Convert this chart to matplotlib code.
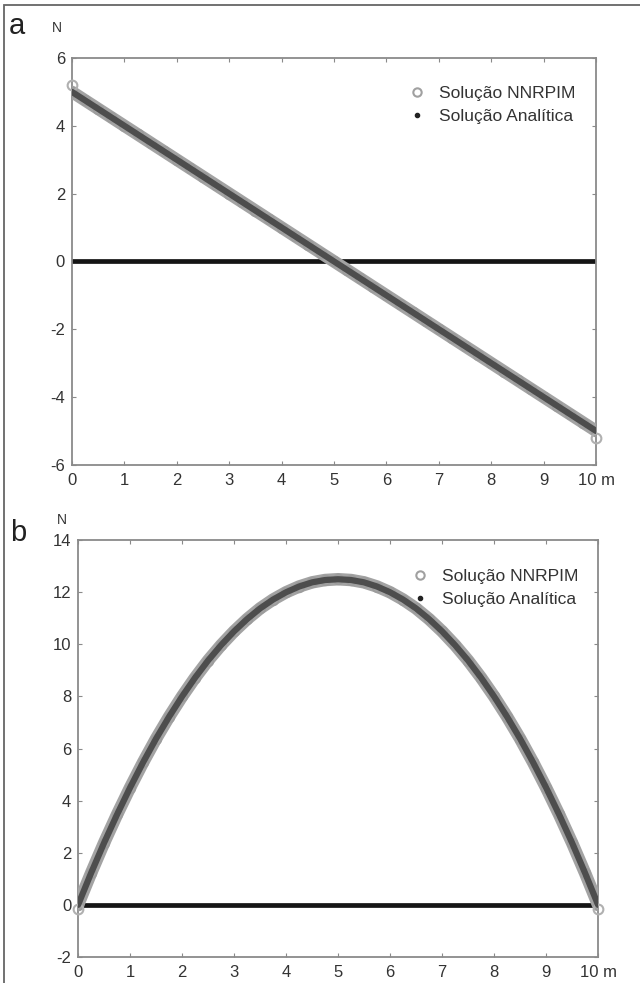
import matplotlib.pyplot as plt
from matplotlib.lines import Line2D
from matplotlib.patches import Rectangle

plt.rcParams['font.family'] = ['Liberation Sans', 'DejaVu Sans']
plt.rcParams['axes.unicode_minus'] = False

# posicoes dos nos (m)
x = [0.0, 0.25, 0.5, 0.75, 1.0, 1.25, 1.5, 1.75, 2.0, 2.25, 2.5, 2.75, 3.0, 3.25,
     3.5, 3.75, 4.0, 4.25, 4.5, 4.75, 5.0, 5.25, 5.5, 5.75, 6.0, 6.25, 6.5, 6.75,
     7.0, 7.25, 7.5, 7.75, 8.0, 8.25, 8.5, 8.75, 9.0, 9.25, 9.5, 9.75, 10.0]

# a) esforco transverso (N)
V_nnrpim = [5.0, 4.75, 4.5, 4.25, 4.0, 3.75, 3.5, 3.25, 3.0, 2.75, 2.5, 2.25, 2.0, 1.75,
            1.5, 1.25, 1.0, 0.75, 0.5, 0.25, 0.0, -0.25, -0.5, -0.75, -1.0, -1.25, -1.5,
            -1.75, -2.0, -2.25, -2.5, -2.75, -3.0, -3.25, -3.5, -3.75, -4.0, -4.25, -4.5,
            -4.75, -5.0]
V_anal = [5.0, 4.75, 4.5, 4.25, 4.0, 3.75, 3.5, 3.25, 3.0, 2.75, 2.5, 2.25, 2.0, 1.75,
          1.5, 1.25, 1.0, 0.75, 0.5, 0.25, 0.0, -0.25, -0.5, -0.75, -1.0, -1.25, -1.5,
          -1.75, -2.0, -2.25, -2.5, -2.75, -3.0, -3.25, -3.5, -3.75, -4.0, -4.25, -4.5,
          -4.75, -5.0]
# nos de extremidade NNRPIM (ligeiro desvio)
V_ends_x = [0.0, 10.0]
V_ends_y = [5.2, -5.2]

# b) momento fletor (N)
M_nnrpim = [0.0, 1.22, 2.38, 3.47, 4.5, 5.47, 6.38, 7.22, 8.0, 8.72, 9.38, 9.97, 10.5,
            10.97, 11.38, 11.72, 12.0, 12.22, 12.38, 12.47, 12.5, 12.47, 12.38, 12.22,
            12.0, 11.72, 11.38, 10.97, 10.5, 9.97, 9.38, 8.72, 8.0, 7.22, 6.38, 5.47,
            4.5, 3.47, 2.38, 1.22, 0.0]
M_anal = [0.0, 1.22, 2.38, 3.47, 4.5, 5.47, 6.38, 7.22, 8.0, 8.72, 9.38, 9.97, 10.5,
          10.97, 11.38, 11.72, 12.0, 12.22, 12.38, 12.47, 12.5, 12.47, 12.38, 12.22,
          12.0, 11.72, 11.38, 10.97, 10.5, 9.97, 9.38, 8.72, 8.0, 7.22, 6.38, 5.47,
          4.5, 3.47, 2.38, 1.22, 0.0]
M_ends_x = [0.0, 10.0]
M_ends_y = [-0.15, -0.15]

zero_x = [0.0, 10.0]
zero_y = [0.0, 0.0]

xticks = [0, 1, 2, 3, 4, 5, 6, 7, 8, 9, 10]
xlabels = ['0', '1', '2', '3', '4', '5', '6', '7', '8', '9', '10 m']
yticks_a = [-6, -4, -2, 0, 2, 4, 6]
yticks_b = [-2, 0, 2, 4, 6, 8, 10, 12, 14]

fig = plt.figure(figsize=(6.4, 9.83), dpi=100)
fig.patches.append(Rectangle((3.5 / 640, -0.1), 1.2, 1 - 5 / 983 + 0.1, transform=fig.transFigure,
                             fill=False, edgecolor='#666666', linewidth=1.3))

ax_a = fig.add_axes([0.1125, 0.527, 0.819, 0.414])
ax_b = fig.add_axes([0.122, 0.0265, 0.8125, 0.424])

gray = '#8a8a8a'
panels = [(ax_a, V_nnrpim, V_anal, V_ends_x, V_ends_y, yticks_a, (0.641, 0.932)),
          (ax_b, M_nnrpim, M_anal, M_ends_x, M_ends_y, yticks_b, (0.641, 0.93))]
for ax, yn, ya, ex, ey, yt, leg_pos in panels:
    ax.plot(zero_x, zero_y, color='#151515', linewidth=3.4, zorder=2)
    ax.plot(x, yn, color='#a3a3a3', linewidth=9, solid_capstyle='round', zorder=3)
    ax.plot(x, yn, linestyle='none', marker='o', markersize=7, markerfacecolor='none',
            markeredgecolor='#9c9c9c', markeredgewidth=1.2, zorder=3)
    ax.plot(ex, ey, linestyle='none', marker='o', markersize=7, markerfacecolor='none',
            markeredgecolor='#b0b0b0', markeredgewidth=1.5, zorder=3, clip_on=False)
    ax.plot(x, ya, color='#4d4d4d', linewidth=4.5, solid_capstyle='round', zorder=4)
    ax.set_xlim(0, 10)
    ax.set_ylim(yt[0], yt[-1])
    ax.set_xticks(xticks)
    ax.set_xticklabels(xlabels)
    ax.set_yticks(yt)
    ax.tick_params(direction='in', length=3, color=gray, labelsize=12, labelcolor='#333333',
                   top=True, right=True)
    ax.tick_params(axis='x', pad=6)
    ax.tick_params(axis='y', pad=5)
    for s in ax.spines.values():
        s.set_color(gray)
        s.set_linewidth(1.3)
    handles = [Line2D([], [], linestyle='none', marker='o', markersize=6, markerfacecolor='none',
                      markeredgecolor='#a0a0a0', markeredgewidth=1.5),
               Line2D([], [], linestyle='none', marker='o', markersize=3,
                      markerfacecolor='#222222', markeredgecolor='#222222')]
    ax.legend(handles, ['Solução NNRPIM', 'Solução Analítica'], loc='upper left', frameon=False,
              fontsize=12.5, handlelength=1.0, handletextpad=0.78, labelspacing=0.45,
              borderpad=0, borderaxespad=0, bbox_to_anchor=leg_pos, labelcolor='#333333')

fig.text(9 / 640, 1 - 26 / 983, 'a', fontsize=21, va='center', ha='left', color='#222222')
fig.text(57 / 640, 1 - 28 / 983, 'N', fontsize=10, va='center', ha='center', color='#333333')
fig.text(10 / 640, 1 - 533 / 983, 'b', fontsize=21, va='center', ha='left', color='#222222')
fig.text(62 / 640, 1 - 520 / 983, 'N', fontsize=10, va='center', ha='center', color='#333333')

fig.savefig('out.png', dpi=100)
